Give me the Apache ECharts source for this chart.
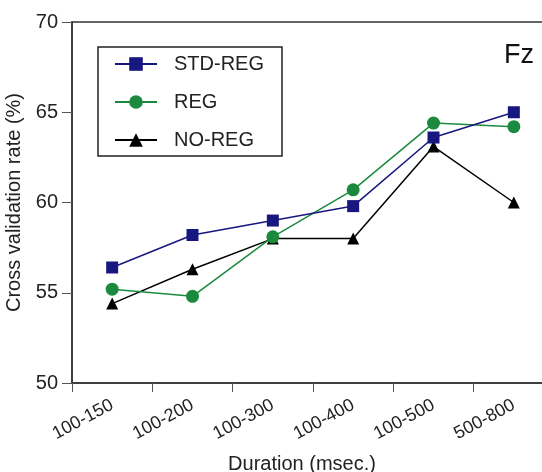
<!DOCTYPE html>
<html>
<head>
<meta charset="utf-8">
<script src="https://cdn.jsdelivr.net/npm/echarts@6/dist/echarts.min.js"></script>
<style>
html,body{margin:0;padding:0;background:#fff;}
#c{width:542px;height:472px;}
</style>
</head>
<body>
<div id="c"></div>
<script>
var categories = ['100-150', '100-200', '100-300', '100-400', '100-500', '500-800'];
var stdReg = [56.4, 58.2, 59.0, 59.8, 63.6, 65.0];
var reg = [55.2, 54.8, 58.1, 60.7, 64.4, 64.2];
var noReg = [54.4, 56.3, 58.0, 58.0, 63.1, 60.0];
var yTicks = [50, 55, 60, 65, 70];

var FONT = 'Liberation Sans, Arial, Helvetica, sans-serif';
var chart = echarts.init(document.getElementById('c'), null, {renderer: 'canvas'});

chart.setOption({
  animation: false,
  backgroundColor: '#ffffff',
  textStyle: {fontFamily: FONT},
  grid: {
    left: 72, top: 22, right: -12, bottom: 89,
    containLabel: false,
    outerBoundsMode: 'none',
    show: true, borderColor: '#333', borderWidth: 1.5, backgroundColor: 'transparent'
  },
  legend: {
    orient: 'vertical',
    left: 98, top: 47,
    padding: [7, 18, 6, 16],
    itemGap: 18,
    itemWidth: 42,
    itemHeight: 17,
    borderColor: '#222',
    borderWidth: 1.5,
    textStyle: {fontSize: 20, color: '#222', fontFamily: FONT, padding: [0, 0, 0, 12]},
    data: ['STD-REG', 'REG', 'NO-REG']
  },
  xAxis: {
    type: 'category',
    data: categories,
    boundaryGap: true,
    name: 'Duration (msec.)',
    nameLocation: 'middle',
    nameGap: 71,
    nameTextStyle: {fontSize: 20, color: '#222', fontFamily: FONT, padding: [0, 22, 0, 0]},
    axisLine: {show: true, lineStyle: {color: '#333', width: 1.5}},
    axisTick: {show: true, inside: false, length: 9, alignWithLabel: false, lineStyle: {color: '#555', width: 1}},
    axisLabel: {rotate: 28, fontSize: 18, color: '#222', margin: 21, fontFamily: FONT},
    splitLine: {show: false}
  },
  yAxis: {
    type: 'value',
    min: yTicks[0], max: yTicks[yTicks.length - 1], interval: 5,
    name: 'Cross validation rate (%)',
    nameLocation: 'middle',
    nameGap: 43,
    nameTextStyle: {fontSize: 20, color: '#222', fontFamily: FONT},
    axisLine: {show: true, lineStyle: {color: '#333', width: 1.5}},
    axisTick: {show: true, inside: false, length: 10, lineStyle: {color: '#555', width: 1}},
    axisLabel: {fontSize: 20, color: '#222', margin: 14, fontFamily: FONT},
    splitLine: {show: false}
  },
  graphic: [{
    type: 'text', left: 504, top: 42,
    style: {text: 'Fz', fontSize: 27, fill: '#111', fontFamily: FONT}
  }],
  series: [
    {
      name: 'NO-REG', type: 'line', data: noReg,
      symbol: 'triangle', symbolSize: 12,
      itemStyle: {color: '#000000'},
      lineStyle: {color: '#000000', width: 1.5}
    },
    {
      name: 'REG', type: 'line', data: reg,
      symbol: 'circle', symbolSize: 13,
      itemStyle: {color: '#1b8a3e'},
      lineStyle: {color: '#1b8a3e', width: 1.5}
    },
    {
      name: 'STD-REG', type: 'line', data: stdReg,
      symbol: 'rect', symbolSize: 12,
      itemStyle: {color: '#18167f'},
      lineStyle: {color: '#18167f', width: 1.5}
    }
  ]
});
</script>
</body>
</html>
